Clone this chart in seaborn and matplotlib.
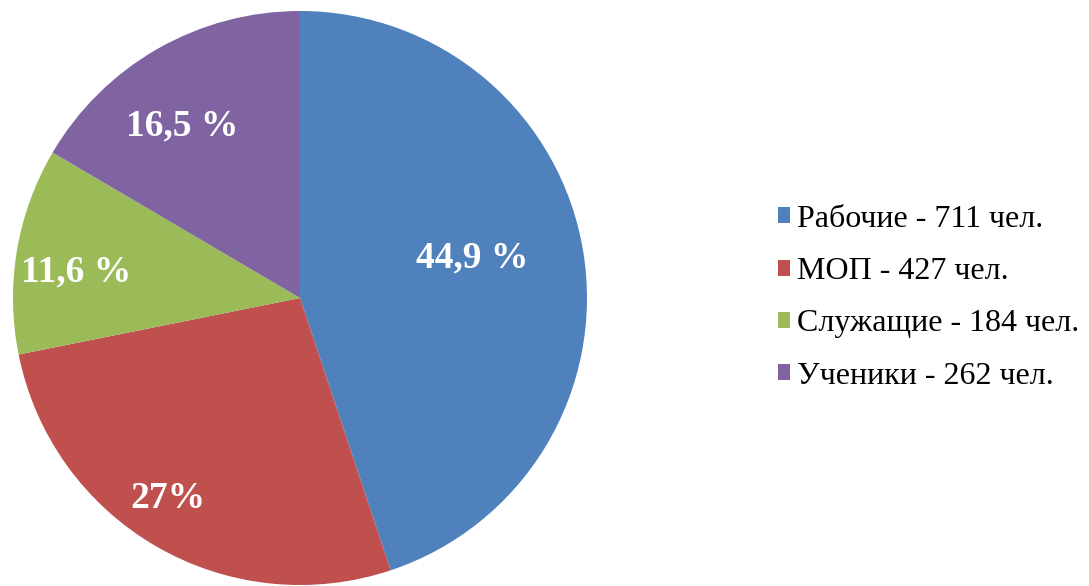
import numpy as np
import seaborn as sns
import matplotlib.pyplot as plt

sns.set_theme(style="white")
plt.rcParams['font.family'] = ['Liberation Serif', 'DejaVu Serif']

# data ---------------------------------------------------------------------
groups = ['Рабочие', 'МОП', 'Служащие', 'Ученики']
counts = [711, 427, 184, 262]
pct_labels = ['44,9 %', '27%', '11,6 %', '16,5 %']
colors = ['#4F81BD', '#C0504D', '#9BBB59', '#8064A2']

# label spots inside the wedges (axes data units, pie radius = 1)
label_x = [0.60, -0.46, -0.78, -0.41]
label_y = [0.14, -0.70, 0.09, 0.60]

fig = plt.figure(figsize=(10.89, 5.86), dpi=100)
ax = fig.add_axes([13 / 1089, 1 / 586, 574 / 1089, 574 / 586])

wedges, _ = ax.pie(counts, colors=colors, startangle=90, counterclock=False,
                   radius=1, wedgeprops=dict(linewidth=0))
ax.set_xlim(-1, 1)
ax.set_ylim(-1, 1)
ax.set_aspect('equal')
ax.axis('off')

for x, y, t in zip(label_x, label_y, pct_labels):
    ax.text(x, y, t, color='white', fontsize=27, fontweight='bold',
            ha='center', va='center')

legend_labels = [f'{g} - {c} чел.' for g, c in zip(groups, counts)]
leg = fig.legend(wedges, legend_labels, loc='center left',
                 bbox_to_anchor=(0.714, 0.492), frameon=False, fontsize=23,
                 borderpad=0, handlelength=0.4, handleheight=0.4,
                 handletextpad=0.22, labelspacing=0.73, borderaxespad=0)
for t in leg.get_texts():
    t.set_color('black')

fig.savefig('out.png', dpi=100)
